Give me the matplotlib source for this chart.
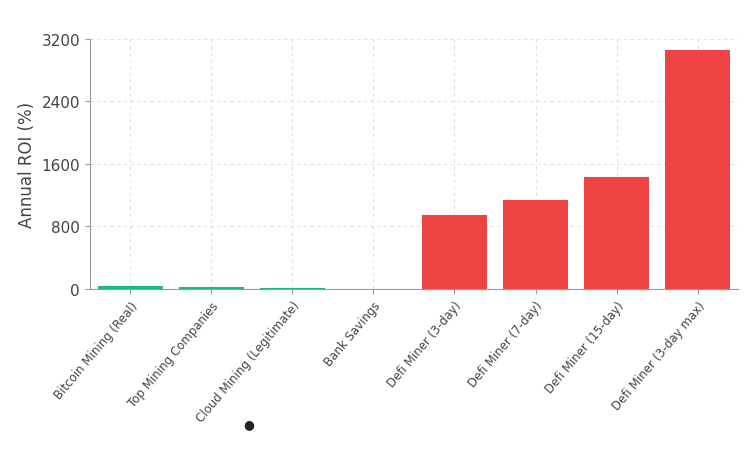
import matplotlib.pyplot as plt

categories = ["Bitcoin Mining (Real)", "Top Mining Companies", "Cloud Mining (Legitimate)",
              "Bank Savings", "Defi Miner (3-day)", "Defi Miner (7-day)",
              "Defi Miner (15-day)", "Defi Miner (3-day max)"]
roi = [40, 25, 15, 3, 950, 1140, 1430, 3060]
colors = ["#1fb97f"] * 4 + ["#ef4444"] * 4

fig = plt.figure(figsize=(7.54, 4.64), dpi=100)
ax = fig.add_axes([0.119, 0.375, 0.860, 0.539])
x = range(len(categories))
ax.bar(x, roi, width=0.8, color=colors, zorder=3)
ax.set_xlim(-0.5, len(categories) - 0.5)
ax.set_ylim(0, 3200)
ax.set_yticks([0, 800, 1600, 2400, 3200])
ax.set_xticks(list(x))
ax.set_xticklabels(categories, rotation=50, ha="right", rotation_mode="anchor",
                   fontsize=8.5, color="#444444")
ax.tick_params(axis="y", labelsize=11, colors="#444444")
ax.tick_params(color="#999999")
ax.set_ylabel("Annual ROI (%)", fontsize=12, color="#444444")
ax.grid(True, linestyle=(0, (3, 3)), color="#e0e0e0", zorder=0)
for s in ["top", "right"]:
    ax.spines[s].set_visible(False)
for s in ["left", "bottom"]:
    ax.spines[s].set_color("#999999")
fig.text(0.33, 0.085, "●", fontsize=9, color="#222222", ha="center", va="center")
fig.savefig("out.png")
